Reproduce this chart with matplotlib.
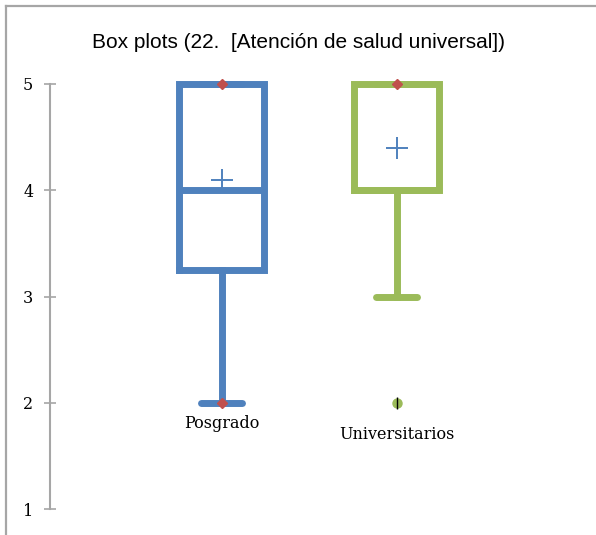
import matplotlib
matplotlib.use("Agg")
import matplotlib.pyplot as plt
from matplotlib.lines import Line2D

# data
groups = ["Posgrado", "Universitarios"]
q1 = [3.25, 4.0]
medians = [4.0, 4.0]
q3 = [5.0, 5.0]
whis_lo = [2.0, 3.0]
whis_hi = [5.0, 5.0]
means = [4.1, 4.4]
outliers = [[], [2.0]]
minima = [2.0, None]
maxima = [5.0, 5.0]
yticks = [1, 2, 3, 4, 5]

blue = "#4F81BD"
green = "#9BBB59"
red = "#C0504D"
gray = "#A6A6A6"
colors = [blue, green]

fig = plt.figure(figsize=(5.96, 5.35), dpi=100)
W, H = 596, 535
ax = fig.add_axes([50 / W, (H - 509) / H, (590 - 50) / W, (509 - 84) / H])

positions = [1, 2]
for i, name in enumerate(groups):
    st = [dict(med=medians[i], q1=q1[i], q3=q3[i], whislo=whis_lo[i],
               whishi=whis_hi[i], mean=means[i], fliers=outliers[i])]
    c = colors[i]
    lw = 5.0
    parts = ax.bxp(st, positions=[positions[i]], widths=0.49, capwidths=0.23,
                   showmeans=True, showfliers=True,
                   boxprops=dict(color=c, linewidth=lw, solid_joinstyle="miter"),
                   whiskerprops=dict(color=c, linewidth=lw),
                   capprops=dict(color=c, linewidth=lw, solid_capstyle="round"),
                   medianprops=dict(color=c, linewidth=lw),
                   meanprops=dict(marker="+", markeredgecolor=blue, markersize=16,
                                  markeredgewidth=1.4),
                   flierprops=dict(marker="o", markerfacecolor=green,
                                   markeredgecolor=green, markersize=6.5))
    for art in sum(parts.values(), []):
        art.set_clip_on(False)
    for v in outliers[i]:
        ax.plot(positions[i], v, marker="|", color="black", markersize=9,
                markeredgewidth=1.0, zorder=5)
    ax.text(positions[i], 1.80 - 0.1 * i, name, ha="center", va="center",
            fontsize=11.5, family="DejaVu Serif")

# min / max markers
for i in range(len(groups)):
    for v in (minima[i], maxima[i]):
        if v is not None:
            ax.plot(positions[i], v, marker="D", color=red, markersize=5,
                    zorder=6, clip_on=False)

ax.set_xlim(1 + (50 - 221.5) / 175, 1 + (590 - 221.5) / 175)
ax.set_ylim(1, 5)
ax.set_yticks(yticks)
ax.set_yticklabels([str(t) for t in yticks], family="DejaVu Serif", fontsize=11.5)
ax.tick_params(axis="y", direction="inout", length=8, width=1.2, color=gray, pad=8)
ax.set_xticks([])
for s in ["top", "right", "bottom"]:
    ax.spines[s].set_visible(False)
ax.spines["left"].set_color(gray)
ax.spines["left"].set_linewidth(1.5)
ax.patch.set_alpha(0)

fig.text(298 / W, 1 - 43 / H, "Box plots (22.  [Atención de salud universal])",
         ha="center", va="center", fontsize=15, family="Liberation Sans")

# chart frame (top and left edges)
fig.add_artist(Line2D([5.5 / W, 5.5 / W], [0, 1 - 6 / H], color=gray, linewidth=1.6))
fig.add_artist(Line2D([5.5 / W, 1], [1 - 6 / H, 1 - 6 / H], color=gray, linewidth=1.6))

fig.savefig("out.png", dpi=100)
